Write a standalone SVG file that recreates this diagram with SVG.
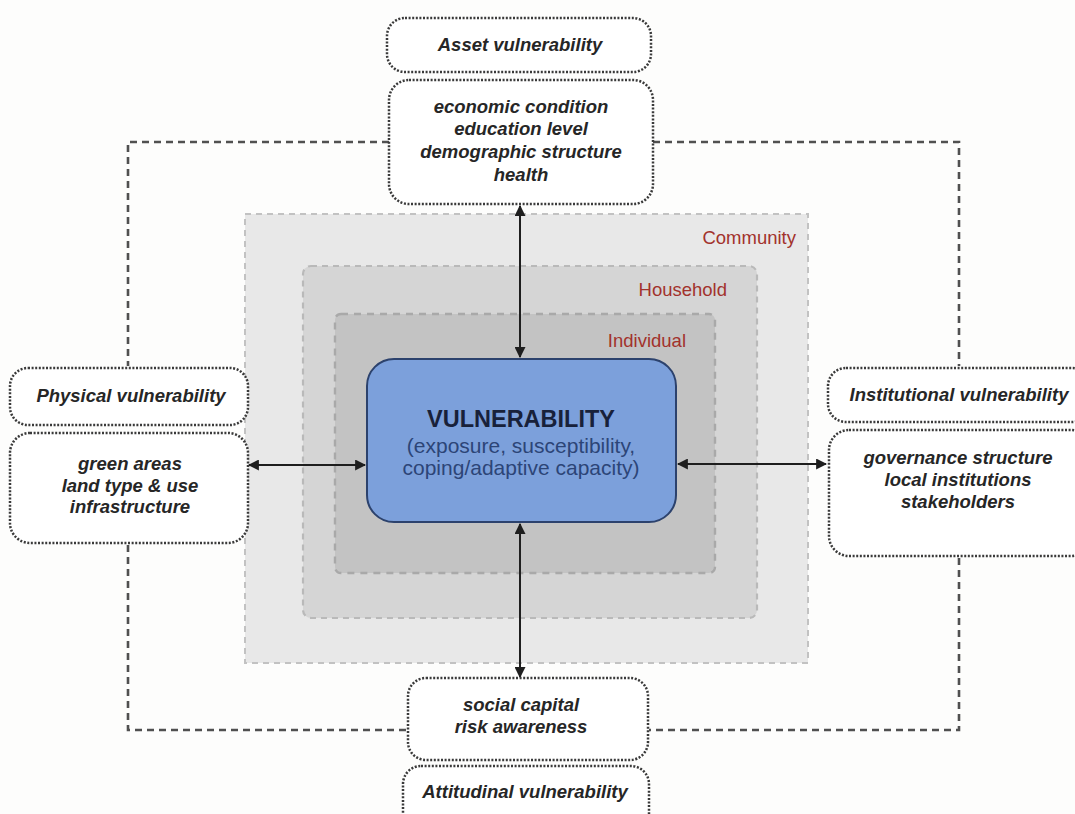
<svg xmlns="http://www.w3.org/2000/svg" width="1075" height="814" viewBox="0 0 1075 814">
<defs>
<marker id="ah" viewBox="0 0 10 10" refX="9" refY="5" markerWidth="5.5" markerHeight="5.5" orient="auto-start-reverse">
<path d="M0,0 L10,5 L0,10 z" fill="#1e1e1e"/>
</marker>
<style>
.box{fill:#ffffff;stroke:#3a3a3a;stroke-width:2.5;stroke-dasharray:2 1.6}
.t{font-family:"Liberation Sans",Arial,sans-serif;font-style:italic;font-weight:bold;font-size:18.5px;fill:#262626;text-anchor:middle}
.lay{font-family:"Liberation Sans",Arial,sans-serif;font-size:18.5px;fill:#a2322c;text-anchor:end}
.loop{fill:none;stroke:#505050;stroke-width:2.6;stroke-dasharray:7 5}
.arr{fill:none;stroke:#1e1e1e;stroke-width:2;marker-start:url(#ah);marker-end:url(#ah)}
</style>
</defs>
<rect width="1075" height="814" fill="#fdfdfc"/>
<g id="layers">
<rect id="community" x="245" y="214" width="563" height="449" fill="#e8e8e8" stroke="#c2c2c2" stroke-width="2" stroke-dasharray="6 5"/>
<rect id="household" x="303" y="266" width="454" height="352" rx="8" fill="#d5d5d5" stroke="#b9b9b9" stroke-width="2.2" stroke-dasharray="6 5"/>
<rect id="individual" x="335" y="314" width="380" height="259" rx="6" fill="#c3c3c3" stroke="#a9a9a9" stroke-width="2.4" stroke-dasharray="7 6"/>
<text class="lay" x="796" y="244">Community</text>
<text class="lay" x="727" y="296">Household</text>
<text class="lay" x="686" y="347">Individual</text>
</g>
<g id="connectors">
<path class="loop" d="M389,142 H128 V366"/>
<path class="loop" d="M128,545 V730 H406"/>
<path class="loop" d="M653,142 H959 V366"/>
<path class="loop" d="M959,558 V730 H649"/>
<line class="arr" x1="520" y1="206" x2="520" y2="357"/>
<line class="arr" x1="520" y1="524" x2="520" y2="677"/>
<line class="arr" x1="249" y1="465" x2="365" y2="465"/>
<line class="arr" x1="678" y1="464" x2="826" y2="464"/>
</g>
<g id="vulnerability">
<rect x="367" y="359" width="309" height="163" rx="27" fill="#7ca0db" stroke="#2c426d" stroke-width="2"/>
<text x="521" y="427" font-family="'Liberation Sans',Arial,sans-serif" font-weight="bold" font-size="23.5px" fill="#18213a" text-anchor="middle">VULNERABILITY</text>
<text x="521" y="453" font-family="'Liberation Sans',Arial,sans-serif" font-size="21px" fill="#2c4577" text-anchor="middle">(exposure, susceptibility,</text>
<text x="521" y="475" font-family="'Liberation Sans',Arial,sans-serif" font-size="21px" fill="#2c4577" text-anchor="middle">coping/adaptive capacity)</text>
</g>
<g id="asset-title">
<rect class="box" x="387" y="18" width="264" height="54" rx="18"/>
<text class="t" x="520" y="51">Asset vulnerability</text>
</g>
<g id="asset-items">
<rect class="box" x="389" y="80" width="264" height="124" rx="20"/>
<text class="t" x="521" y="113">economic condition</text>
<text class="t" x="521" y="135">education level</text>
<text class="t" x="521" y="158">demographic structure</text>
<text class="t" x="521" y="181">health</text>
</g>
<g id="physical-title">
<rect class="box" x="10" y="368" width="238" height="57" rx="18"/>
<text class="t" x="131" y="402">Physical vulnerability</text>
</g>
<g id="physical-items">
<rect class="box" x="10" y="433" width="238" height="110" rx="20"/>
<text class="t" x="130" y="470">green areas</text>
<text class="t" x="130" y="492">land type &amp; use</text>
<text class="t" x="130" y="513">infrastructure</text>
</g>
<g id="institutional-title">
<rect class="box" x="828" y="368" width="262" height="54" rx="18"/>
<text class="t" x="959" y="401">Institutional vulnerability</text>
</g>
<g id="institutional-items">
<rect class="box" x="829" y="430" width="262" height="126" rx="20"/>
<text class="t" x="958" y="464">governance structure</text>
<text class="t" x="958" y="486">local institutions</text>
<text class="t" x="958" y="508">stakeholders</text>
</g>
<g id="attitudinal-items">
<rect class="box" x="408" y="678" width="240" height="82" rx="18"/>
<text class="t" x="521" y="711">social capital</text>
<text class="t" x="521" y="733">risk awareness</text>
</g>
<g id="attitudinal-title">
<rect class="box" x="403" y="766" width="246" height="70" rx="18"/>
<text class="t" x="525" y="798">Attitudinal vulnerability</text>
</g>
</svg>
